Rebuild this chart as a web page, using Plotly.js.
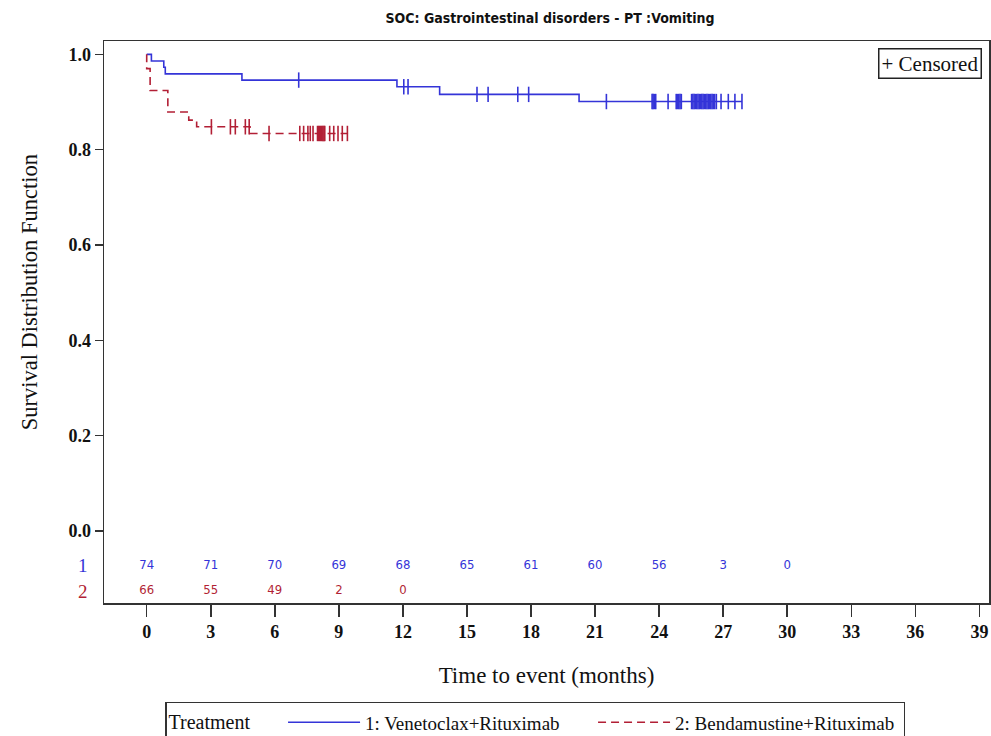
<!DOCTYPE html>
<html>
<head>
<meta charset="utf-8">
<script src="https://cdn.plot.ly/plotly-3.0.1.min.js"></script>
<style>
  html, body { margin: 0; padding: 0; background: #fff; }
  #chart { width: 991px; height: 736px; }
</style>
</head>
<body>
<div id="chart"></div>
<script>
// ---- Data ----
const chartTitle = "SOC: Gastrointestinal disorders - PT :Vomiting";
const yTitle = "Survival Distribution Function";
const xTitle = "Time to event (months)";
const seriesNames = ["1: Venetoclax+Rituximab", "2: Bendamustine+Rituximab"];
const groupLabels = ["1", "2"];

// Kaplan-Meier steps, group 1 (Venetoclax+Rituximab)
const blueEventTimes = [0, 0.22, 0.80, 0.87, 4.46, 11.72, 13.72, 20.25];
const blueSurv       = [1.000, 0.986, 0.973, 0.959, 0.946, 0.932, 0.916, 0.901];
const blueLastTime   = 27.88;
const blueCensorTimes = [7.12, 12.04, 12.24, 15.47, 15.99, 17.38, 17.89, 21.53,
  23.67, 23.72, 23.78, 23.84, 24.42, 24.80, 24.86, 24.92, 24.98, 25.04,
  25.52, 25.58, 25.64, 25.70, 25.76, 25.82, 25.88, 25.94, 26.00, 26.06,
  26.12, 26.18, 26.24, 26.30, 26.36, 26.42, 26.48, 26.54, 26.60, 26.68,
  26.90, 27.24, 27.55, 27.88];

// Kaplan-Meier steps, group 2 (Bendamustine+Rituximab)
const redEventTimes = [0, 0, 0.16, 0.99, 1.97, 2.34, 4.84];
const redSurv       = [1.000, 0.970, 0.924, 0.879, 0.862, 0.848, 0.834];
const redLastTime   = 9.43;
const redCensorTimes = [3.03, 3.92, 4.15, 4.62, 4.80, 5.73, 7.17, 7.35, 7.55, 7.66, 7.79,
  8.00, 8.05, 8.10, 8.15, 8.20, 8.25, 8.30, 8.34, 8.57, 8.76, 8.96, 9.16, 9.40];

// Numbers at risk
const riskTimesBlue = [0, 3, 6, 9, 12, 15, 18, 21, 24, 27, 30];
const riskBlue      = [74, 71, 70, 69, 68, 65, 61, 60, 56, 3, 0];
const riskTimesRed  = [0, 3, 6, 9, 12];
const riskRed       = [66, 55, 49, 2, 0];
const riskRowY      = [-0.073, -0.126];

const xTicks = [0, 3, 6, 9, 12, 15, 18, 21, 24, 27, 30, 33, 36, 39];
const yTicks = [0, 0.2, 0.4, 0.6, 0.8, 1.0];

// ---- Styles ----
const BLUE = '#3434d8';
const RED = '#b21f35';
const SERIF = '"Liberation Serif", "Times New Roman", serif';
const NARROW = '"Liberation Sans Narrow", "DejaVu Sans Condensed", "Liberation Sans", sans-serif';

function survAt(times, surv, t) {
  let v = surv[0];
  for (let i = 0; i < times.length; i++) { if (times[i] <= t) v = surv[i]; }
  return v;
}

const traces = [
  {
    x: blueEventTimes.concat([blueLastTime]),
    y: blueSurv.concat([blueSurv[blueSurv.length - 1]]),
    mode: 'lines', line: {shape: 'hv', color: BLUE, width: 1.6},
    name: seriesNames[0], hoverinfo: 'skip'
  },
  {
    x: redEventTimes.concat([redLastTime]),
    y: redSurv.concat([redSurv[redSurv.length - 1]]),
    mode: 'lines', line: {shape: 'hv', color: RED, width: 1.6, dash: '8px,5px'},
    name: seriesNames[1], hoverinfo: 'skip'
  },
  {
    x: blueCensorTimes,
    y: blueCensorTimes.map(t => survAt(blueEventTimes, blueSurv, t)),
    mode: 'markers', showlegend: false, hoverinfo: 'skip',
    marker: {symbol: 'line-ns-open', size: 11, color: BLUE, line: {color: BLUE, width: 1.6}}
  },
  {
    x: redCensorTimes,
    y: redCensorTimes.map(t => survAt(redEventTimes, redSurv, t)),
    mode: 'markers', showlegend: false, hoverinfo: 'skip',
    marker: {symbol: 'line-ns-open', size: 11, color: RED, line: {color: RED, width: 1.6}}
  },
  {
    x: riskTimesBlue, y: riskTimesBlue.map(() => riskRowY[0]),
    text: riskBlue.map(String), mode: 'text', showlegend: false, hoverinfo: 'skip',
    textfont: {family: NARROW, size: 13, color: BLUE}
  },
  {
    x: riskTimesRed, y: riskTimesRed.map(() => riskRowY[1]),
    text: riskRed.map(String), mode: 'text', showlegend: false, hoverinfo: 'skip',
    textfont: {family: NARROW, size: 13, color: RED}
  }
];

const layout = {
  width: 991, height: 736,
  margin: {l: 104, r: 2, t: 41, b: 133, autoexpand: false},
  paper_bgcolor: '#fff', plot_bgcolor: '#fff',
  title: {
    text: chartTitle, x: 0.555, xanchor: 'center', y: 0.975, yanchor: 'middle',
    font: {family: NARROW, size: 14, color: '#111', weight: 'bold'}
  },
  xaxis: {
    range: [-2.0, 39.45], tickvals: xTicks, ticktext: xTicks.map(String),
    ticks: 'outside', ticklen: 12, tickwidth: 1.5, tickcolor: '#333',
    showline: true, mirror: true, linecolor: '#333', linewidth: 1.5,
    showgrid: false, zeroline: false,
    tickfont: {family: SERIF, size: 18, color: '#111', weight: 'bold'},
    title: {text: xTitle, standoff: 26,
            font: {family: SERIF, size: 23, color: '#111'}}
  },
  yaxis: {
    range: [-0.151, 1.028], tickvals: yTicks, ticktext: yTicks.map(v => v.toFixed(1)),
    ticks: 'outside', ticklen: 8, tickwidth: 1.5, tickcolor: '#333',
    showline: true, mirror: true, linecolor: '#333', linewidth: 1.5,
    showgrid: false, zeroline: false,
    tickfont: {family: SERIF, size: 18, color: '#111', weight: 'bold'}
  },
  showlegend: true,
  legend: {
    orientation: 'h', x: 0.069, xanchor: 'left', y: -0.176, yanchor: 'top',
    bordercolor: '#333', borderwidth: 1.5, bgcolor: '#fff',
    font: {family: SERIF, size: 19, color: '#111'},
    title: {text: 'Treatment     ', font: {family: SERIF, size: 20, color: '#111'}},
    itemwidth: 72, entrywidth: 223
  },
  annotations: [
    {xref: 'paper', yref: 'y', x: -0.084, y: 0.5, text: yTitle, textangle: -90,
     showarrow: false, xanchor: 'center', yanchor: 'middle',
     font: {family: SERIF, size: 22.5, color: '#111'}},
    {xref: 'paper', yref: 'y', x: -0.024, y: riskRowY[0], text: groupLabels[0],
     showarrow: false, xanchor: 'center', yanchor: 'middle',
     font: {family: SERIF, size: 19, color: BLUE}},
    {xref: 'paper', yref: 'y', x: -0.024, y: riskRowY[1], text: groupLabels[1],
     showarrow: false, xanchor: 'center', yanchor: 'middle',
     font: {family: SERIF, size: 19, color: RED}},
    {xref: 'paper', yref: 'paper', x: 0.992, y: 0.988, xanchor: 'right', yanchor: 'top',
     text: '+ Censored', showarrow: false, bordercolor: '#222', borderwidth: 1.5,
     borderpad: 2, bgcolor: '#fff', font: {family: SERIF, size: 21, color: '#111'}}
  ]
};

Plotly.newPlot('chart', traces, layout, {displayModeBar: false, staticPlot: true});
</script>
</body>
</html>
